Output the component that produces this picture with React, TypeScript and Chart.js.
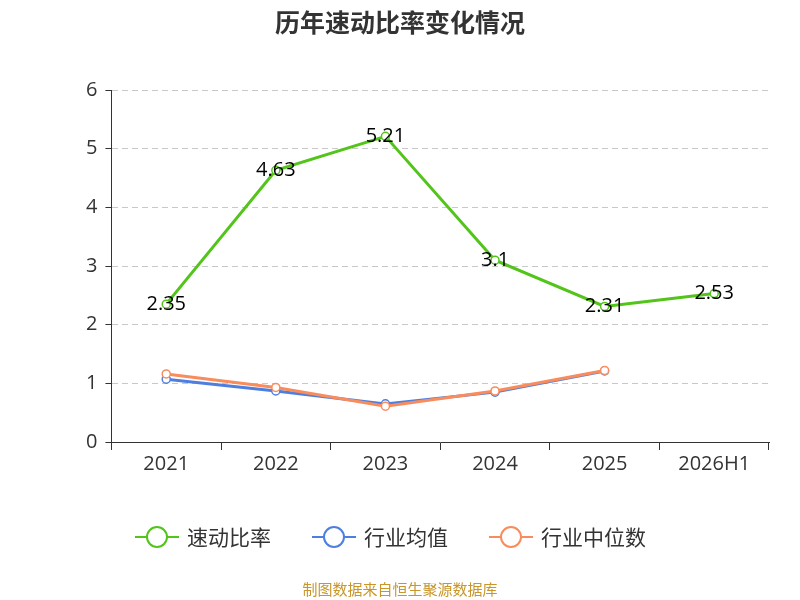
import React, { useEffect, useRef } from "react";
import { Chart, registerables } from "chart.js";
Chart.register(...registerables);

const categories = ["2021", "2022", "2023", "2024", "2025", "2026H1"];
const quickRatio = [2.35, 4.63, 5.21, 3.1, 2.31, 2.53];
const industryAvg = [1.07, 0.87, 0.65, 0.85, 1.21, null];
const industryMedian = [1.16, 0.93, 0.61, 0.87, 1.22, null];
const seriesNames = ["速动比率", "行业均值", "行业中位数"];
const colors = ["#52c41a", "#4e7fe0", "#f98c5c"];
const FONT = '"Noto Sans CJK SC", "Noto Sans", sans-serif';
const NUMFONT = '"Open Sans", "Noto Sans", sans-serif';

const extras = {
  id: "extras",
  afterDraw(chart: any) {
    const ctx = chart.ctx;
    ctx.save();
    ctx.fillStyle = "#333";
    ctx.font = `bold 25px ${FONT}`;
    ctx.textAlign = "center";
    ctx.textBaseline = "middle";
    ctx.fillText("历年速动比率变化情况", 400, 22);
    const meta = chart.getDatasetMeta(0);
    ctx.font = `20px ${NUMFONT}`;
    ctx.fillStyle = "#000";
    meta.data.forEach((p: any, i: number) => {
      ctx.fillText(String(quickRatio[i]), p.x, p.y);
    });
    const xs = [135, 312, 489];
    ctx.font = `21px ${FONT}`;
    ctx.textAlign = "left";
    xs.forEach((x, i) => {
      const y = 537;
      ctx.strokeStyle = colors[i];
      ctx.lineWidth = 2;
      ctx.beginPath();
      ctx.moveTo(x, y);
      ctx.lineTo(x + 44, y);
      ctx.stroke();
      ctx.beginPath();
      ctx.arc(x + 22, y, 10, 0, Math.PI * 2);
      ctx.fillStyle = "#fff";
      ctx.fill();
      ctx.stroke();
      ctx.fillStyle = "#333";
      ctx.fillText(seriesNames[i], x + 52, y);
    });
    ctx.font = `15px ${FONT}`;
    ctx.textAlign = "center";
    ctx.fillStyle = "#c8962a";
    ctx.fillText("制图数据来自恒生聚源数据库", 400, 589);
    ctx.restore();
  },
};

export default function App() {
  const ref = useRef<HTMLCanvasElement>(null);
  useEffect(() => {
    const mk = (label: string, data: any[], c: string, order: number) => ({
      label,
      data,
      borderColor: c,
      backgroundColor: "#fff",
      borderWidth: 3,
      pointRadius: 4,
      pointBorderWidth: 1.5,
      pointBackgroundColor: "#fff",
      tension: 0,
      order,
    });
    const chart = new Chart(ref.current!, {
      type: "line",
      data: {
        labels: categories,
        datasets: [
          mk(seriesNames[0], quickRatio, colors[0], 0),
          mk(seriesNames[1], industryAvg, colors[1], 2),
          mk(seriesNames[2], industryMedian, colors[2], 1),
        ],
      },
      options: {
        animation: false,
        responsive: false,
        layout: { padding: { top: 90, bottom: 122, left: 78, right: 31 } },
        plugins: { legend: { display: false }, title: { display: false }, tooltip: { enabled: false } },
        scales: {
          x: {
            offset: true,
            grid: { offset: true, drawOnChartArea: false, drawTicks: true, tickLength: 8, color: "#333" },
            border: { color: "#333", width: 1 },
            ticks: { color: "#333", font: { size: 20, family: NUMFONT }, padding: 2 },
          },
          y: {
            min: 0,
            max: 6,
            ticks: { stepSize: 1, color: "#333", font: { size: 20, family: NUMFONT }, padding: 8 },
            grid: { color: "#c8c8c8", tickLength: 6, tickColor: "#333" },
            border: { color: "#333", dash: [6, 4], display: true },
          },
        },
      },
      plugins: [extras],
    });
    return () => chart.destroy();
  }, []);
  return (
    <div style={{ position: "absolute", left: 0, top: 0 }}>
      <canvas ref={ref} width={800} height={600} />
    </div>
  );
}
